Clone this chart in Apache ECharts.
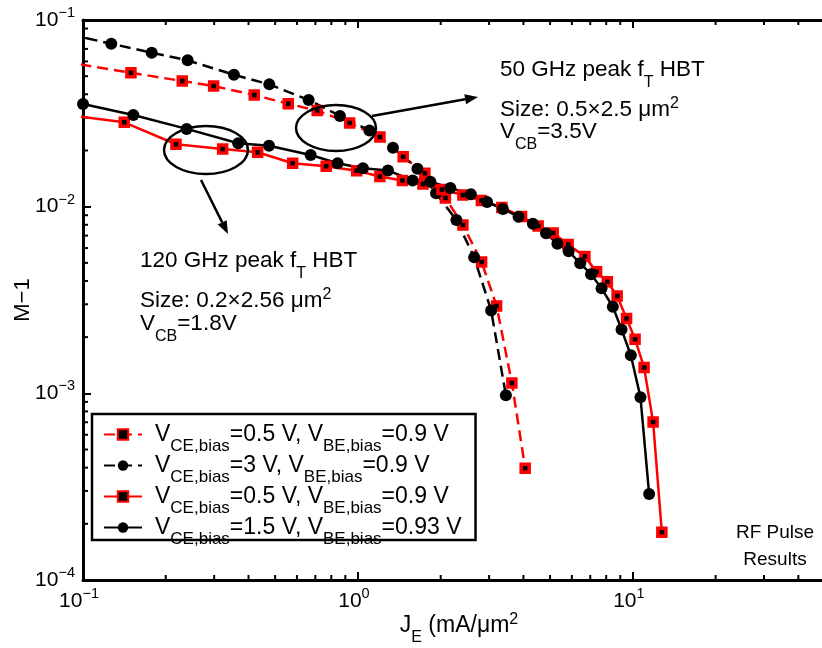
<!DOCTYPE html>
<html><head><meta charset="utf-8">
<script src="https://cdn.jsdelivr.net/npm/echarts@6/dist/echarts.min.js"></script>
<style>html,body{margin:0;padding:0;background:#fff}#c{width:822px;height:648px}</style>
</head><body><div id="c"></div>
<script>
const FONT = '"Liberation Sans", Arial, Helvetica, sans-serif';

// Series A: red dashed squares — VCE,bias=0.5 V, VBE,bias=0.9 V (50 GHz HBT)
const jA = [0.085, 0.1494, 0.2297, 0.2987, 0.4197, 0.5579, 0.7112, 0.9328, 1.202, 1.461, 1.752, 2.081, 2.409, 2.818, 3.194, 3.631, 4.059];
const mA = [0.0598, 0.0522, 0.0471, 0.0443, 0.0396, 0.0356, 0.0327, 0.0281, 0.0236, 0.0185, 0.0151, 0.01113, 0.00798, 0.00505, 0.00294, 0.001136, 0.000397];
// Series B: black dashed circles — VCE,bias=3 V, VBE,bias=0.9 V
const jB = [0.0897, 0.1267, 0.1778, 0.2402, 0.3540, 0.4760, 0.6619, 0.8601, 1.101, 1.341, 1.646, 1.924, 2.281, 2.648, 3.052, 3.453];
const mB = [0.0836, 0.0746, 0.0668, 0.0608, 0.0509, 0.0452, 0.0373, 0.0306, 0.0256, 0.0207, 0.01597, 0.01180, 0.00848, 0.00535, 0.00278, 0.000976];
// Series C: red solid squares — VCE,bias=0.5 V, VBE,bias=0.9 V (120 GHz HBT)
const jC = [0.0897, 0.1413, 0.2179, 0.3221, 0.4318, 0.5788, 0.7666, 0.9893, 1.202, 1.451, 1.723, 2.021, 2.409, 2.813, 3.339, 3.938, 4.524, 5.131, 5.817, 6.692, 7.379, 8.077, 8.767, 9.487, 10.19, 10.99, 11.85, 12.75];
const mC = [0.0309, 0.0283, 0.02159, 0.02037, 0.01956, 0.01707, 0.01646, 0.01559, 0.01451, 0.01381, 0.01323, 0.01236, 0.01155, 0.01079, 0.00990, 0.00886, 0.00788, 0.00723, 0.00627, 0.00540, 0.00448, 0.00396, 0.00332, 0.00252, 0.00195, 0.001375, 0.000702, 0.000180];
// Series D: black solid circles — VCE,bias=1.5 V, VBE,bias=0.93 V
const jD = [0.1, 0.1524, 0.2382, 0.3670, 0.4748, 0.6730, 0.8437, 1.043, 1.286, 1.581, 1.835, 2.169, 2.575, 2.950, 3.368, 3.840, 4.329, 4.834, 5.315, 5.842, 6.434, 7.047, 7.694, 8.458, 9.096, 9.834, 10.66, 11.46];
const mD = [0.0355, 0.0310, 0.0261, 0.02185, 0.0212, 0.0189, 0.01707, 0.01605, 0.01563, 0.01381, 0.01361, 0.01259, 0.01165, 0.01059, 0.00972, 0.00884, 0.00810, 0.00720, 0.00633, 0.00577, 0.00497, 0.00435, 0.00365, 0.00291, 0.00220, 0.00160, 0.000952, 0.000289];

const seriesNames = ['A: VCE 0.5 V (50 GHz)', 'B: VCE 3 V', 'C: VCE 0.5 V (120 GHz)', 'D: VCE 1.5 V'];
const legendLabels = [
  '{f|V}{s|CE,bias}{n|=0.5 V, V}{s|BE,bias}{n|=0.9 V}',
  '{f|V}{s|CE,bias}{n|=3 V, V}{s|BE,bias}{n|=0.9 V}',
  '{f|V}{s|CE,bias}{n|=0.5 V, V}{s|BE,bias}{n|=0.9 V}',
  '{f|V}{s|CE,bias}{n|=1.5 V, V}{s|BE,bias}{n|=0.93 V}'
];

const X_MIN = 0.1, X_MAX = 50, Y_MIN = 1e-4, Y_MAX = 0.1;
const xTickExps = [-1, 0, 1];
const yTickExps = [-4, -3, -2, -1];
const xMinorTicks = [0.2,0.3,0.4,0.5,0.6,0.7,0.8,0.9,2,3,4,5,6,7,8,9,20,30,40];
const yMinorTicks = [2e-4,3e-4,4e-4,5e-4,6e-4,7e-4,8e-4,9e-4,2e-3,3e-3,4e-3,5e-3,6e-3,7e-3,8e-3,9e-3,2e-2,3e-2,4e-2,5e-2,6e-2,7e-2,8e-2,9e-2];

function pairs(j, m) { return j.map((v, i) => [v, m[i]]); }
function powLabel(v, exps) {
  const e = Math.round(Math.log10(v));
  if (exps.indexOf(e) < 0 || Math.abs(v / Math.pow(10, e) - 1) > 1e-6) return '';
  return '{b|10}{e|' + (e < 0 ? '\u2212' + (-e) : String(e)) + '}';
}
const tickRich = {
  b: {fontSize: 21, fontFamily: FONT, color: '#000', lineHeight: 24},
  e: {fontSize: 14.5, fontFamily: FONT, color: '#000', lineHeight: 24, padding: [0, 0, 14, 0]}
};

const RED = '#ff0000';
const redSq = {symbol: 'rect', symbolSize: 8, itemStyle: {color: '#000', borderColor: RED, borderWidth: 3.5}};
const blkCirc = {symbol: 'circle', symbolSize: 12, itemStyle: {color: '#000', borderColor: '#000', borderWidth: 0}};
function lineSeries(name, data, marker, color, dashed) {
  return Object.assign({
    name: name, type: 'line', data: data, showSymbol: true, showAllSymbol: true,
    lineStyle: {color: color, width: 2.5, type: dashed ? [11, 6] : 'solid'},
    emphasis: {disabled: true}, clip: true
  }, marker);
}

function arrow(x1, y1, x2, y2) {
  const a = Math.atan2(y2 - y1, x2 - x1), L = 13, W = 5;
  const bx = x2 - L * Math.cos(a), by = y2 - L * Math.sin(a);
  return [
    {type: 'line', shape: {x1: x1, y1: y1, x2: bx, y2: by}, style: {stroke: '#000', lineWidth: 2.5}, z: 20},
    {type: 'polygon', shape: {points: [[x2, y2], [bx - W * Math.sin(a), by + W * Math.cos(a)], [bx + W * Math.sin(a), by - W * Math.cos(a)]]}, style: {fill: '#000'}, z: 20}
  ];
}
const annRich = {
  n: {fontSize: 22.5, fontFamily: FONT, fill: '#000', lineHeight: 26},
  s: {fontSize: 16, fontFamily: FONT, fill: '#000', lineHeight: 26, padding: [26, 0, 0, 0]},
  p: {fontSize: 16, fontFamily: FONT, fill: '#000', lineHeight: 26, padding: [0, 0, 12, 0]}
};
function annText(x, y, txt) {
  return {type: 'text', x: x, y: y, z: 20, style: {text: txt, rich: annRich, align: 'left', verticalAlign: 'middle', fill: '#000', font: '22.5px ' + FONT}};
}

const chart = echarts.init(document.getElementById('c'));
chart.setOption({
  animation: false,
  backgroundColor: '#fff',
  grid: {left: 83, top: 20, width: 742, height: 560, containLabel: false, outerBoundsMode: 'none'},
  xAxis: [{
    type: 'log', logBase: 10, min: X_MIN, max: X_MAX, position: 'bottom',
    axisLine: {show: true, lineStyle: {color: '#000', width: 3}},
    axisTick: {show: true, inside: true, length: 8, lineStyle: {color: '#000', width: 2}},
    axisLabel: {show: true, margin: 9, formatter: v => powLabel(v, xTickExps), rich: tickRich, padding: [0, 8, 0, 0]},
    splitLine: {show: false},
    name: '{n|J}{s|E}{n| (mA/\u03bcm}{p|2}', nameLocation: 'middle', nameGap: 32, nameMoveOverlap: false,
    nameTextStyle: {padding: [0, 0, 0, 10], rich: {
      n: {fontSize: 23, fontFamily: FONT, color: '#000', lineHeight: 28},
      s: {fontSize: 16, fontFamily: FONT, color: '#000', lineHeight: 28, padding: [24, 0, 0, 0]},
      p: {fontSize: 16, fontFamily: FONT, color: '#000', lineHeight: 28, padding: [0, 0, 12, 0]}
    }}
  }, {
    type: 'log', logBase: 10, min: X_MIN, max: X_MAX, position: 'top', gridIndex: 0,
    axisLine: {show: true, lineStyle: {color: '#000', width: 3}},
    axisTick: {show: true, inside: true, length: 8, lineStyle: {color: '#000', width: 2}},
    axisLabel: {show: false}, splitLine: {show: false}
  }],
  yAxis: {
    type: 'log', logBase: 10, min: Y_MIN, max: Y_MAX, position: 'left',
    axisLine: {show: true, lineStyle: {color: '#000', width: 3}},
    axisTick: {show: true, inside: true, length: 8, lineStyle: {color: '#000', width: 2}},
    axisLabel: {show: true, margin: 8, formatter: v => powLabel(v, yTickExps), rich: tickRich},
    splitLine: {show: false},
    name: 'M\u22121', nameLocation: 'middle', nameRotate: 90, nameGap: 48, nameMoveOverlap: false,
    nameTextStyle: {fontSize: 22, fontFamily: FONT, color: '#000', lineHeight: 24}
  },
  legend: {
    orient: 'vertical', left: 92, top: 414,
    data: seriesNames.map((n, i) => ({name: n, itemStyle: i % 2 === 0 ? {borderWidth: 2} : {borderWidth: 0}})),
    itemWidth: 38, itemHeight: 13, itemGap: -10,
    padding: [0, 14, -8, 11],
    backgroundColor: '#fff', borderColor: '#000', borderWidth: 2.5, borderRadius: 0,
    selectedMode: false,
    formatter: name => legendLabels[seriesNames.indexOf(name)],
    textStyle: {rich: {
      f: {fontSize: 23, fontFamily: FONT, color: '#000', lineHeight: 30, padding: [0, 0, 0, 8]},
      n: {fontSize: 23, fontFamily: FONT, color: '#000', lineHeight: 30},
      s: {fontSize: 17, fontFamily: FONT, color: '#000', lineHeight: 30, padding: [24, 0, 0, 0]}
    }}
  },
  series: [
    lineSeries(seriesNames[0], pairs(jA, mA), redSq, RED, true),
    lineSeries(seriesNames[1], pairs(jB, mB), blkCirc, '#000', true),
    lineSeries(seriesNames[2], pairs(jC, mC), redSq, RED, false),
    lineSeries(seriesNames[3], pairs(jD, mD), blkCirc, '#000', false),
    {
      type: 'custom', coordinateSystem: 'cartesian2d', silent: true, clip: false,
      data: xMinorTicks.map(v => [v, Y_MIN]),
      renderItem: (params, api) => {
        const v = api.value(0);
        const b = api.coord([v, Y_MIN]), t = api.coord([v, Y_MAX]);
        return {type: 'group', children: [
          {type: 'line', shape: {x1: b[0], y1: b[1], x2: b[0], y2: b[1] - 5}, style: {stroke: '#000', lineWidth: 2}},
          {type: 'line', shape: {x1: t[0], y1: t[1], x2: t[0], y2: t[1] + 5}, style: {stroke: '#000', lineWidth: 2}}
        ]};
      }
    },
    {
      type: 'custom', coordinateSystem: 'cartesian2d', silent: true, clip: false,
      data: yMinorTicks.map(v => [X_MIN, v]),
      renderItem: (params, api) => {
        const p = api.coord([X_MIN, api.value(1)]);
        return {type: 'line', shape: {x1: p[0], y1: p[1], x2: p[0] + 5, y2: p[1]}, style: {stroke: '#000', lineWidth: 2}};
      }
    }
  ],
  graphic: {elements: [
    {type: 'ellipse', shape: {cx: 336, cy: 128, rx: 40, ry: 23}, style: {fill: 'none', stroke: '#000', lineWidth: 2.5}, z: 20},
    {type: 'ellipse', shape: {cx: 206, cy: 150, rx: 42, ry: 24}, style: {fill: 'none', stroke: '#000', lineWidth: 2.5}, z: 20},
    ...arrow(372, 116, 478, 97),
    ...arrow(201, 180, 228, 234),
    annText(500, 70, '{n|50 GHz peak f}{s|T}{n| HBT}'),
    annText(500, 110, '{n|Size: 0.5\u00d72.5 \u03bcm}{p|2}'),
    annText(500, 132, '{n|V}{s|CB}{n|=3.5V}'),
    annText(140, 261, '{n|120 GHz peak f}{s|T}{n| HBT}'),
    annText(140, 301, '{n|Size: 0.2\u00d72.56 \u03bcm}{p|2}'),
    annText(140, 324, '{n|V}{s|CB}{n|=1.8V}'),
    {type: 'text', x: 775, y: 546, z: 20, style: {text: 'RF Pulse\nResults', align: 'center', verticalAlign: 'middle', fill: '#000', font: '19px ' + FONT, lineHeight: 27}}
  ]}
});
</script></body></html>
